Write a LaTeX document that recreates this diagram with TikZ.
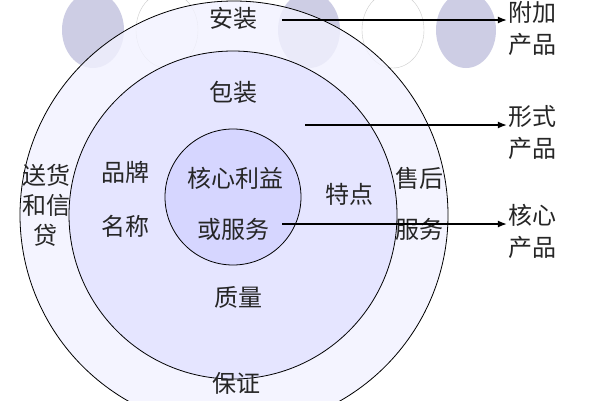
\documentclass[tikz,border=0pt]{standalone}
\usepackage{fontspec}
\usetikzlibrary{arrows.meta}
\newfontfamily\cjk{Noto Sans CJK SC}
\begin{document}
\begin{tikzpicture}[x=1pt,y=-1pt,
  lbl/.style={font=\cjk\fontsize{24}{32}\selectfont,text=black!85,inner sep=1pt},
  arr/.style={draw=black,line width=1.3pt,-{Latex[length=9pt,width=7pt]}}]
\useasboundingbox (0,0) rectangle (600,400);
\fill[white] (0,0) rectangle (600,400);
% background ellipses
\fill[blue!30!gray!30] (93,30) ellipse (31 and 38);
\draw[gray!40] (167,30) ellipse (31 and 38);
\fill[blue!30!gray!30] (309,30) ellipse (31 and 38);
\draw[gray!40] (393,30) ellipse (31 and 38);
\fill[blue!30!gray!30] (466,30) ellipse (30 and 38);
% circles
\draw[fill=blue!5,fill opacity=0.8,line width=0.8pt] (234,215) circle (214);
\draw[fill=blue!10,line width=0.8pt] (233,215) circle (164);
\draw[fill=blue!16,line width=0.8pt] (233,197) circle (68);
% labels
\node[lbl] (az) at (233,18) {安装};
\node[lbl] (bz) at (233,92) {包装};
\node[lbl] (pp) at (125,172) {品牌};
\node[lbl] (mc) at (125,226) {名称};
\node[lbl] (hx) at (235,178) {核心利益};
\node[lbl] (hf) at (233,229) {或服务};
\node[lbl] (td) at (349,194) {特点};
\node[lbl] (sh) at (419,178) {售后};
\node[lbl] (fw) at (419,229) {服务};
\node[lbl] (zl) at (238,297) {质量};
\node[lbl] (bzh) at (236,383) {保证};
\node[lbl,align=center] (sx) at (46,205) {送货\\[-2pt]和信\\[-2pt]贷};
\node[lbl,align=center] (fj) at (532,28) {附加\\产品};
\node[lbl,align=center] (xs) at (532,133) {形式\\产品};
\node[lbl,align=center] (hc) at (532,231) {核心\\产品};
\coordinate (a1) at (282,20);
\coordinate (a2) at (305,125);
\coordinate (a3) at (282,224);
\draw[arr] (a1) -- (a1 -| fj.west);
\draw[arr] (a2) -- (a2 -| xs.west);
\draw[arr] (a3) -- (a3 -| hc.west);
\end{tikzpicture}
\end{document}
